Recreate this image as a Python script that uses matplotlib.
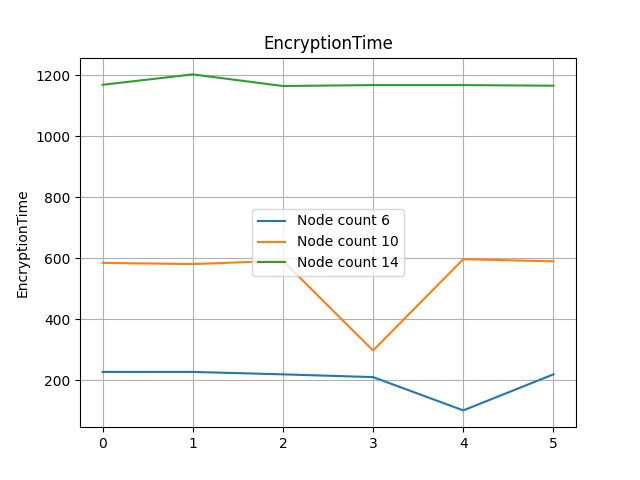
import matplotlib
matplotlib.use("Agg")
import matplotlib.pyplot as plt

x = [0, 1, 2, 3, 4, 5]
node6 = [228, 228, 220, 211, 102, 220]
node10 = [585, 581, 592, 298, 597, 590]
node14 = [1168, 1202, 1164, 1167, 1167, 1165]
labels = ["Node count 6", "Node count 10", "Node count 14"]

fig, ax = plt.subplots(figsize=(6.4, 4.8), dpi=100)
for ys, lab in zip([node6, node10, node14], labels):
    ax.plot(x, ys, label=lab)
ax.set_title("EncryptionTime")
ax.set_ylabel("EncryptionTime")
ax.grid(True)
ax.legend(loc="center")
fig.savefig("out.png")
